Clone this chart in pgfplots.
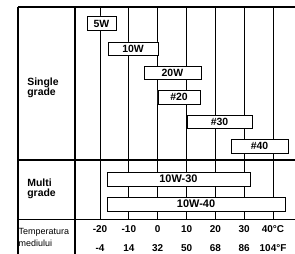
\documentclass[border=0pt]{standalone}
\usepackage{pgfplots}
\pgfplotsset{compat=1.18}
\usepackage{fontspec}
\setmainfont{Liberation Sans}
\begin{document}
\begin{tikzpicture}
\begin{axis}[
  scale only axis, width=295bp, height=254bp,
  xmin=-54.70, xmax=47.62, ymin=0, ymax=254, y dir=reverse,
  hide axis, clip=false,
]
% frame and grid
\addplot[black, line width=1.1bp] coordinates {(-48.46,7) (47.62,7)};
\addplot[black, line width=1.1bp] coordinates {(-48.46,7) (-48.46,254)};
\addplot[black, line width=1.1bp] coordinates {(-28.69,7) (-28.69,254)};
\addplot[black, line width=1.2bp] coordinates {(-48.46,160) (47.62,160)};
\addplot[black, line width=0.9bp] coordinates {(-48.46,219) (47.62,219)};
\addplot[black, line width=1bp] coordinates {(-20,7) (-20,219)};
\addplot[black, line width=1bp] coordinates {(-10,7) (-10,219)};
\addplot[black, line width=1bp] coordinates {(0,7) (0,219)};
\addplot[black, line width=1bp] coordinates {(10,7) (10,219)};
\addplot[black, line width=1bp] coordinates {(20,7) (20,219)};
\addplot[black, line width=1bp] coordinates {(30,7) (30,219)};
\addplot[black, line width=1bp] coordinates {(40,7) (40,219)};
% bars
\pgfplotsset{bar/.style={draw=black, line width=0.8bp, fill=white}}
\addplot[bar] coordinates {(-24.5,16) (-14.5,16) (-14.5,30) (-24.5,30) (-24.5,16)};
\addplot[bar] coordinates {(-17.2,42) (0.1,42) (0.1,55) (-17.2,55) (-17.2,42)};
\addplot[bar] coordinates {(-4.75,66) (15.0,66) (15.0,79) (-4.75,79) (-4.75,66)};
\addplot[bar] coordinates {(0.1,90) (14.7,90) (14.7,104) (0.1,104) (0.1,90)};
\addplot[bar] coordinates {(10.2,115) (32.7,115) (32.7,128) (10.2,128) (10.2,115)};
\addplot[bar] coordinates {(25.4,139) (45.2,139) (45.2,153) (25.4,153) (25.4,139)};
\addplot[bar] coordinates {(-17.6,172) (32.0,172) (32.0,186) (-17.6,186) (-17.6,172)};
\addplot[bar] coordinates {(-17.6,197) (44.2,197) (44.2,211) (-17.6,211) (-17.6,197)};
% bar labels
\tikzset{bl/.style={font=\fontsize{10.5}{11}\selectfont\bfseries, inner sep=0pt}}
\node[bl] at (axis cs:-19.5,23.5) {5W};
\node[bl] at (axis cs:-8.55,48.5) {10W};
\node[bl] at (axis cs:5.1,72.5) {20W};
\node[bl] at (axis cs:7.4,97) {\#20};
\node[bl] at (axis cs:21.45,121.5) {\#30};
\node[bl] at (axis cs:35.3,146) {\#40};
\node[bl, font=\fontsize{11}{11}\selectfont\bfseries] at (axis cs:7.2,179) {10W-30};
\node[bl, font=\fontsize{11}{11}\selectfont\bfseries] at (axis cs:13.3,204) {10W-40};
% row labels
\tikzset{rl/.style={font=\fontsize{10.5}{10}\selectfont\bfseries, inner sep=0pt, align=left, anchor=west}}
\node[rl] at (axis cs:-45.3,88) {Single\\grade};
\node[rl] at (axis cs:-45.3,189) {Multi\\grade};
\node[font=\fontsize{9}{12}\selectfont, inner sep=0pt, align=left, anchor=west] at (axis cs:-48.3,237) {Temperatura\\mediului};
% temperature scales
\tikzset{tl/.style={font=\fontsize{10}{10}\selectfont\bfseries, inner sep=0pt}}
\node[tl] at (axis cs:-20,229) {-20};
\node[tl] at (axis cs:-10,229) {-10};
\node[tl] at (axis cs:0,229) {0};
\node[tl] at (axis cs:10,229) {10};
\node[tl] at (axis cs:20,229) {20};
\node[tl] at (axis cs:30,229) {30};
\node[tl] at (axis cs:40,229) {40\textdegree C};
\node[tl] at (axis cs:-20,248) {-4};
\node[tl] at (axis cs:-10,248) {14};
\node[tl] at (axis cs:0,248) {32};
\node[tl] at (axis cs:10,248) {50};
\node[tl] at (axis cs:20,248) {68};
\node[tl] at (axis cs:30,248) {86};
\node[tl] at (axis cs:40,248) {104\textdegree F};
\end{axis}
\pgfresetboundingbox
\path[use as bounding box] (0,0) rectangle (295bp,254bp);
\end{tikzpicture}
\end{document}
